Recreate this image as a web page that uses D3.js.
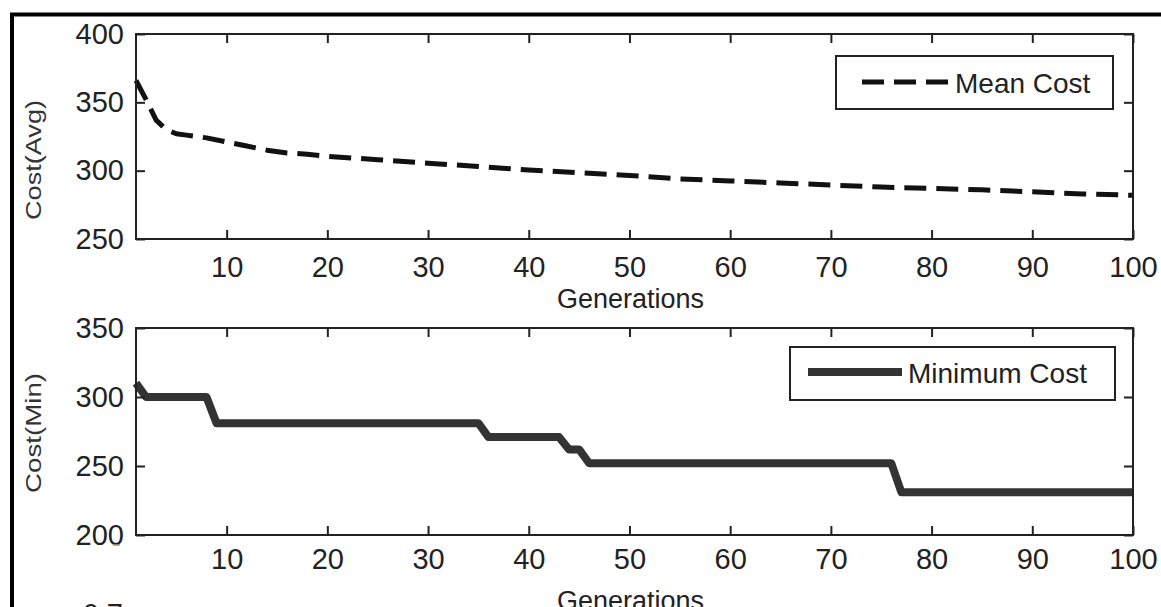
<!DOCTYPE html>
<html>
<head>
<meta charset="utf-8">
<script src="https://cdn.jsdelivr.net/npm/d3@7"></script>
<style>
  body { margin: 0; background: #fff; }
  svg { display: block; font-family: "Liberation Sans", Arial, sans-serif; }
  .tick text { fill: #222; font-size: 29px; }
  .tick line { stroke: #222; stroke-width: 2; }
</style>
</head>
<body>
<svg id="chart" width="1161" height="607"></svg>
<script>
  // values
  var meanGens  = [1, 2, 3, 4, 5, 6, 8, 10, 12, 14, 16, 18, 20, 25, 30, 35, 40, 45, 50, 55, 60, 65, 70, 75, 80, 85, 90, 95, 100];
  var meanCost  = [366, 352, 337, 330, 327, 326, 324, 321, 318, 315, 313, 312, 310.5, 308, 305.5, 303, 300.5, 298.5, 296.5, 294, 292.5, 291, 289.5, 288, 287, 286, 284.5, 283, 282];
  var minGens   = [1, 2, 8, 9, 35, 36, 43, 44, 45, 46, 76, 77, 100];
  var minCost   = [310, 300, 300, 281, 281, 271, 271, 262, 262, 252, 252, 231, 231];
  var xTicks    = [10, 20, 30, 40, 50, 60, 70, 80, 90, 100];
  var avgTicks  = [250, 300, 350, 400];
  var minTicks  = [200, 250, 300, 350];

  var svg = d3.select('#chart');

  // outer frame (cut off at right and bottom)
  svg.append('rect')
    .attr('x', 12).attr('y', 14.5)
    .attr('width', 1200).attr('height', 700)
    .attr('fill', 'none').attr('stroke', '#000').attr('stroke-width', 4);

  var left = 136, right = 1133;

  var x = d3.scaleLinear().domain([1, 100]).range([left, right]);

  function panel(opts) {
    var y = d3.scaleLinear().domain(opts.domain).range([opts.bottom, opts.top]);
    var g = svg.append('g');

    // data line
    var line = d3.line()
      .x(function(d) { return x(d[0]); })
      .y(function(d) { return y(d[1]); });

    g.append('path')
      .datum(d3.zip(opts.gens, opts.vals))
      .attr('d', line)
      .attr('fill', 'none')
      .attr('stroke', opts.color)
      .attr('stroke-width', opts.width)
      .attr('stroke-dasharray', opts.dash)
      .attr('stroke-linejoin', 'round');

    // inner ticks on all four sides, matlab style
    g.append('g')
      .attr('transform', 'translate(0,' + opts.bottom + ')')
      .call(d3.axisBottom(x).tickValues(xTicks).tickSizeInner(-9).tickSizeOuter(0).tickPadding(opts.xPad))
      .call(function(a) { a.select('.domain').remove(); });
    g.append('g')
      .attr('transform', 'translate(0,' + opts.top + ')')
      .call(d3.axisTop(x).tickValues(xTicks).tickSizeInner(-9).tickSizeOuter(0).tickFormat(''))
      .call(function(a) { a.select('.domain').remove(); });
    g.append('g')
      .attr('transform', 'translate(' + left + ',0)')
      .call(d3.axisLeft(y).tickValues(opts.ticks).tickSizeInner(-9).tickSizeOuter(0).tickPadding(12))
      .call(function(a) { a.select('.domain').remove(); });
    g.append('g')
      .attr('transform', 'translate(' + right + ',0)')
      .call(d3.axisRight(y).tickValues(opts.ticks).tickSizeInner(-9).tickSizeOuter(0).tickFormat(''))
      .call(function(a) { a.select('.domain').remove(); });

    g.append('rect')
      .attr('x', left).attr('y', opts.top)
      .attr('width', right - left).attr('height', opts.bottom - opts.top)
      .attr('fill', 'none').attr('stroke', '#222').attr('stroke-width', 2);

    // axis titles
    g.append('text')
      .attr('transform', 'translate(33,' + opts.ylabY + ') rotate(-90)')
      .attr('text-anchor', 'middle')
      .attr('dominant-baseline', 'central')
      .attr('font-size', 22)
      .attr('textLength', 120)
      .attr('lengthAdjust', 'spacingAndGlyphs')
      .attr('fill', '#333')
      .text(opts.ylabel);

    g.append('text')
      .attr('x', (left + right) / 2 - 4)
      .attr('y', opts.xlabY)
      .attr('text-anchor', 'middle')
      .attr('dominant-baseline', 'central')
      .attr('font-size', 27)
      .attr('fill', '#222')
      .text('Generations');

    // legend
    var lg = opts.legend;
    g.append('rect')
      .attr('x', lg.x0).attr('y', lg.y0)
      .attr('width', lg.x1 - lg.x0).attr('height', lg.y1 - lg.y0)
      .attr('fill', '#fff').attr('stroke', '#222').attr('stroke-width', 2);
    g.append('line')
      .attr('x1', lg.lx0).attr('x2', lg.lx1)
      .attr('y1', lg.ly).attr('y2', lg.ly)
      .attr('stroke', opts.color)
      .attr('stroke-width', opts.width)
      .attr('stroke-dasharray', opts.dash);
    g.append('text')
      .attr('x', lg.tx).attr('y', lg.ly + 1)
      .attr('dominant-baseline', 'central')
      .attr('font-size', 28)
      .attr('fill', '#222')
      .text(lg.label);
  }

  panel({
    top: 34, bottom: 239, domain: [250, 400], ticks: avgTicks,
    gens: meanGens, vals: meanCost,
    color: '#111', width: 5, dash: '22,10',
    xPad: 17, ylabel: 'Cost(Avg)', ylabY: 160, xlabY: 299,
    legend: { x0: 836, y0: 56, x1: 1113, y1: 109, lx0: 862, lx1: 950, ly: 82, tx: 955, label: 'Mean Cost' }
  });

  panel({
    top: 328, bottom: 535, domain: [200, 350], ticks: minTicks,
    gens: minGens, vals: minCost,
    color: '#333', width: 8, dash: null,
    xPad: 13, ylabel: 'Cost(Min)', ylabY: 433, xlabY: 601,
    legend: { x0: 790, y0: 347, x1: 1115, y1: 400, lx0: 808, lx1: 902, ly: 372, tx: 908, label: 'Minimum Cost' }
  });

  // remnants of a third subplot below the crop
  svg.append('line')
    .attr('x1', 113).attr('x2', 120).attr('y1', 545).attr('y2', 545)
    .attr('stroke', '#999').attr('stroke-width', 1.5);
  svg.append('text')
    .attr('x', 123).attr('y', 624)
    .attr('text-anchor', 'end')
    .attr('font-size', 29)
    .attr('fill', '#222')
    .text('0.7');
</script>
</body>
</html>
